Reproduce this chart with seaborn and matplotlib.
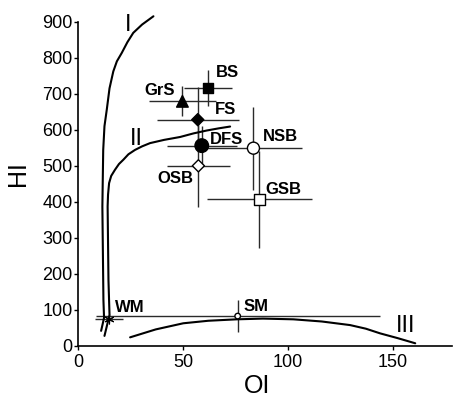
import numpy as np
import pandas as pd
import matplotlib
matplotlib.use("Agg")
import matplotlib.pyplot as plt
import seaborn as sns

# sample points (OI, HI) with error ranges
samples = ["BS", "GrS", "FS", "DFS", "NSB", "OSB", "GSB", "SM"]
oi = [62.0, 49.7, 57.0, 58.9, 83.5, 57.3, 86.3, 76.0]
hi = [717, 679, 628, 556, 549, 500, 407, 83]
oi_err = [11.4, 16.0, 19.6, 16.7, 23.0, 15.0, 25.0, 67.6]
hi_err = [50, 42, 90, 55, 115, 113, 135, 44]

wm_oi, wm_hi = [14.9], [74]
wm_oi_err, wm_hi_err = [6.7], [8]

# label text anchor positions
lab_x = [65.7, 46.2, 65.2, 62.9, 88.1, 54.8, 89.0, 78.6, 17.6]
lab_y = [758, 709, 655, 572, 581, 466, 433, 110, 107]
lab_ha = ["left", "right", "left", "left", "left", "right", "left", "left", "left"]
lab_txt = samples + ["WM"]

# kerogen type boundary curves
curve1_oi = [11.0, 12.4, 12.1, 11.6, 12.0, 12.6, 13.7, 15.0, 16.8, 18.5,
             20.8, 23.5, 26.3, 30.5, 35.9]
curve1_hi = [42, 78, 128, 387, 544, 610, 656, 715, 762, 790,
             813, 843, 869, 892, 915]
curve2_oi = [12.6, 15.0, 14.5, 14.1, 14.3, 14.8, 15.8, 17.6, 19.5, 21.6,
             24.0, 27.1, 30.5, 34.3, 41.0, 48.6, 55.0, 61.3, 67.0, 72.4]
curve2_hi = [28, 86, 183, 387, 420, 452, 472, 489, 505, 517,
             532, 544, 554, 563, 572, 580, 590, 598, 604, 609]
curve3_oi = [24.8, 37.0, 50.1, 62.0, 75.6, 88.0, 102.5, 116.0, 129.5,
             137.0, 143.8, 152.0, 160.5]
curve3_hi = [24, 46, 63, 70, 74, 76, 74, 68, 58, 48, 35, 22, 7.5]

faces = {"BS": "black", "GrS": "black", "FS": "black", "DFS": "black",
         "NSB": "white", "OSB": "white", "GSB": "white", "SM": "white"}
marks = {"BS": "s", "GrS": "^", "FS": "D", "DFS": "o",
         "NSB": "o", "OSB": "D", "GSB": "s", "SM": "o"}
sizes = {"BS": 50, "GrS": 70, "FS": 38, "DFS": 95,
         "NSB": 75, "OSB": 38, "GSB": 62, "SM": 16}

sns.set_style("ticks")
plt.rcParams['font.family'] = ['Liberation Sans', 'DejaVu Sans']
plt.rcParams['text.color'] = 'black'
plt.rcParams['axes.labelcolor'] = 'black'

df = pd.DataFrame({"sample": samples, "OI": oi, "HI": hi})

fig = plt.figure(figsize=(4.54, 3.97), dpi=100)
ax = fig.add_axes([0.1718, 0.1285, 0.8238, 0.8169])

lc = "#2a2a2a"
ax.errorbar(oi, hi, xerr=oi_err, yerr=hi_err, fmt="none",
            ecolor=lc, elinewidth=1.0, capsize=0, zorder=1)
ax.errorbar(wm_oi, wm_hi, xerr=wm_oi_err, yerr=wm_hi_err, fmt="none",
            ecolor=lc, elinewidth=1.0, capsize=0, zorder=1)

for cx, cy in [(curve1_oi, curve1_hi), (curve2_oi, curve2_hi), (curve3_oi, curve3_hi)]:
    sns.lineplot(x=cx, y=cy, sort=False, estimator=None, color="black",
                 lw=1.5, ax=ax, clip_on=False, zorder=2)

sns.scatterplot(data=df, x="OI", y="HI", hue="sample", palette=faces,
                style="sample", markers=marks, size="sample", sizes=sizes,
                edgecolor="black", linewidth=1.0, legend=False, ax=ax, zorder=3)
ax.plot(wm_oi, wm_hi, marker=(6, 2, 0), color="black", ms=7, mew=0.8,
        ls="none", zorder=3)

for t, x, y, ha in zip(lab_txt, lab_x, lab_y, lab_ha):
    ax.text(x, y, t, ha=ha, va="center", fontsize=12, fontweight="bold")

ax.text(24.0, 892, "I", ha="center", va="center", fontsize=17)
ax.text(27.6, 575, "II", ha="center", va="center", fontsize=17)
ax.text(156, 56, "III", ha="center", va="center", fontsize=17)

ax.set_xlim(0, 178)
ax.set_ylim(0, 900)
ax.set_xticks([0, 50, 100, 150])
ax.set_yticks(np.arange(0, 901, 100))
ax.tick_params(direction="out", length=3, width=1, labelsize=13,
               colors="black", labelcolor="black")
ax.tick_params(axis="y", pad=1)
ax.tick_params(axis="x", pad=3)
for s in ["left", "bottom"]:
    ax.spines[s].set_linewidth(1.2)
    ax.spines[s].set_color("black")
sns.despine(ax=ax)

ax.set_xlabel("OI", fontsize=18)
ax.set_ylabel("HI", fontsize=18)
ax.xaxis.label.set_va("center")
ax.yaxis.label.set_va("center")
ax.xaxis.set_label_coords(0.479, -0.123)
ax.yaxis.set_label_coords(-0.160, 0.533)

fig.savefig("out.png", dpi=100)
